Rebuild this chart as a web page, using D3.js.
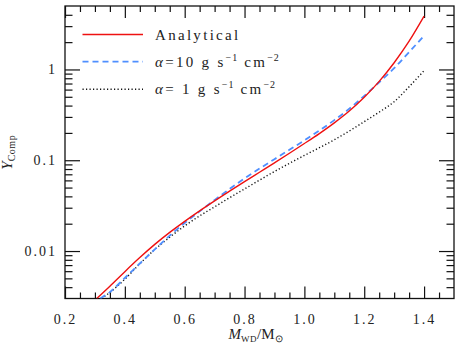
<!DOCTYPE html>
<html>
<head>
<meta charset="utf-8">
<script src="https://cdn.jsdelivr.net/npm/d3@7"></script>
<style>
  body { margin: 0; background: #fff; }
  text { font-family: "Liberation Serif", serif; fill: #222; }
</style>
</head>
<body>
<div id="chart"></div>
<script>
// white dwarf mass (M_sun) and Y_Comp for each model
const mass_red = [0.306, 0.35, 0.4, 0.45, 0.5, 0.55, 0.6, 0.65, 0.7, 0.75, 0.8, 0.85, 0.9, 0.95, 1.0, 1.05, 1.1, 1.15, 1.2, 1.25, 1.3, 1.35, 1.4];
const y_analytical = [0.003, 0.0041, 0.00593, 0.00847, 0.01183, 0.01603, 0.02123, 0.02767, 0.03565, 0.0456, 0.05808, 0.07379, 0.09376, 0.1194, 0.1528, 0.1968, 0.2582, 0.3483, 0.4943, 0.7396, 1.186, 2.046, 3.864];

const mass_blue = [0.318, 0.35, 0.4, 0.45, 0.5, 0.55, 0.6, 0.65, 0.7, 0.75, 0.8, 0.85, 0.9, 0.95, 1.0, 1.05, 1.1, 1.15, 1.2, 1.25, 1.3, 1.35, 1.4];
const y_a10 = [0.003, 0.00353, 0.00505, 0.00729, 0.01042, 0.01479, 0.02037, 0.02735, 0.03648, 0.04831, 0.06295, 0.08091, 0.1028, 0.1303, 0.1656, 0.2123, 0.2767, 0.369, 0.5117, 0.7228, 1.033, 1.552, 2.355];

const mass_black = [0.322, 0.35, 0.4, 0.45, 0.5, 0.55, 0.6, 0.65, 0.7, 0.75, 0.8, 0.85, 0.9, 0.95, 1.0, 1.05, 1.1, 1.15, 1.2, 1.25, 1.3, 1.35, 1.4];
const y_a1 = [0.003, 0.0035, 0.0049, 0.00724, 0.0104, 0.01419, 0.01892, 0.02438, 0.03069, 0.03864, 0.04831, 0.06039, 0.07516, 0.09247, 0.113, 0.1374, 0.1679, 0.2099, 0.2661, 0.3388, 0.4416, 0.6457, 0.9705];

const x_ticks = [0.2, 0.4, 0.6, 0.8, 1.0, 1.2, 1.4];
const y_ticks = [0.01, 0.1, 1];
const y_tick_labels = ["0.01", "0.1", "1"];

const margin = { top: 6, right: 9, bottom: 49.5, left: 65 },
  width = 463 - margin.left - margin.right,
  height = 348 - margin.top - margin.bottom;

const svg = d3.select("#chart")
  .append("svg")
  .attr("width", 463)
  .attr("height", 348)
  .append("g")
  .attr("transform", `translate(${margin.left},${margin.top})`);

const x = d3.scaleLinear().domain([0.2, 1.5]).range([0, width]);
const y = d3.scaleLog().domain([0.003, 5]).range([height, 0]);

// minor ticks
const x_minor = d3.range(0.25, 1.5, 0.05).map(d => +d.toFixed(2)).filter(d => !x_ticks.some(t => Math.abs(t - d) < 1e-6));
const y_minor = [];
[0.001, 0.01, 0.1, 1].forEach(dec => {
  for (let k = 2; k <= 9; k++) {
    const v = +(k * dec).toPrecision(3);
    if (v > 0.003 && v < 5) y_minor.push(v);
  }
});

function styleAxis(g) {
  g.select(".domain").remove();
  g.selectAll(".tick line").attr("stroke", "#111").attr("stroke-width", 1.2);
  g.selectAll("text").style("font-size", "14px").style("letter-spacing", "2px").attr("fill", "#222");
}

// bottom
svg.append("g").attr("transform", `translate(0,${height})`)
  .call(d3.axisBottom(x).tickValues(x_ticks).tickFormat(d3.format(".1f")).tickSizeInner(-12).tickPadding(16))
  .call(styleAxis);
svg.append("g").attr("transform", `translate(0,${height})`)
  .call(d3.axisBottom(x).tickValues(x_minor).tickFormat("").tickSizeInner(-6))
  .call(styleAxis);
// top
svg.append("g")
  .call(d3.axisTop(x).tickValues(x_ticks).tickFormat("").tickSizeInner(-12))
  .call(styleAxis);
svg.append("g")
  .call(d3.axisTop(x).tickValues(x_minor).tickFormat("").tickSizeInner(-6))
  .call(styleAxis);
// left
svg.append("g")
  .call(d3.axisLeft(y).tickValues(y_ticks).tickFormat((d, i) => y_tick_labels[i]).tickSizeInner(-15).tickPadding(8))
  .call(styleAxis);
svg.append("g")
  .call(d3.axisLeft(y).tickValues(y_minor).tickFormat("").tickSizeInner(-7.5))
  .call(styleAxis);
// right
svg.append("g").attr("transform", `translate(${width},0)`)
  .call(d3.axisRight(y).tickValues(y_ticks).tickFormat("").tickSizeInner(-15))
  .call(styleAxis);
svg.append("g").attr("transform", `translate(${width},0)`)
  .call(d3.axisRight(y).tickValues(y_minor).tickFormat("").tickSizeInner(-7.5))
  .call(styleAxis);

// frame
svg.append("rect")
  .attr("width", width).attr("height", height)
  .attr("fill", "none").attr("stroke", "#111").attr("stroke-width", 1.3);

svg.append("clipPath").attr("id", "clip")
  .append("rect").attr("width", width).attr("height", height);

const line = d3.line().x(d => x(d[0])).y(d => y(d[1])).curve(d3.curveMonotoneX);

const series = [
  { m: mass_black, v: y_a1, color: "#111", width: 1.4, dash: "1.2,2.3" },
  { m: mass_blue, v: y_a10, color: "#4f8fff", width: 1.8, dash: "6,4" },
  { m: mass_red, v: y_analytical, color: "#ee1111", width: 1.4, dash: null },
];

svg.append("g").attr("clip-path", "url(#clip)")
  .selectAll("path")
  .data(series)
  .join("path")
  .attr("d", s => line(s.m.map((m, i) => [m, s.v[i]])))
  .attr("fill", "none")
  .attr("stroke", s => s.color)
  .attr("stroke-width", s => s.width)
  .attr("stroke-dasharray", s => s.dash);

// legend
const legend = [
  { s: series[2], y: 28.5 },
  { s: series[1], y: 55.7 },
  { s: series[0], y: 83.3 },
];
legend.forEach(l => {
  svg.append("line")
    .attr("x1", 17.5).attr("x2", 78).attr("y1", l.y).attr("y2", l.y)
    .attr("stroke", l.s.color).attr("stroke-width", l.s.width)
    .attr("stroke-dasharray", l.s.dash);
});
const lg = svg.append("g").style("font-size", "15px").style("letter-spacing", "2.3px");
lg.append("text").attr("x", 90).attr("y", legend[0].y + 5).text("Analytical");

function alphaLabel(yy, num) {
  const t = lg.append("text").attr("x", 90).attr("y", yy + 5).attr("xml:space", "preserve");
  t.append("tspan").style("font-style", "italic").text("α");
  t.append("tspan").text("=" + num + " g s");
  t.append("tspan").attr("dy", -6).style("font-size", "10px").style("letter-spacing", "1px").text("−1");
  t.append("tspan").attr("dy", 6).text(" cm");
  t.append("tspan").attr("dy", -6).style("font-size", "10px").style("letter-spacing", "1px").text("−2");
}
alphaLabel(legend[1].y, "10");
alphaLabel(legend[2].y, " 1");

// x axis label
const xl = svg.append("text")
  .attr("x", width / 2 - 4).attr("y", height + 40)
  .attr("text-anchor", "middle").style("font-size", "15px");
xl.append("tspan").style("font-style", "italic").text("M");
xl.append("tspan").attr("dy", 3).style("font-size", "9px").style("letter-spacing", "0.5px").text("WD");
xl.append("tspan").attr("dy", -3).text("/M");
xl.append("tspan").attr("dy", 3).style("font-size", "10px").text("⊙");

// y axis label
const yl = svg.append("text")
  .attr("transform", `translate(${-53},${height / 2}) rotate(-90)`)
  .attr("text-anchor", "middle").style("font-size", "15px");
yl.append("tspan").style("font-style", "italic").text("Y");
yl.append("tspan").attr("dy", 3).style("font-size", "10px").style("letter-spacing", "0.5px").text("Comp");
</script>
</body>
</html>
